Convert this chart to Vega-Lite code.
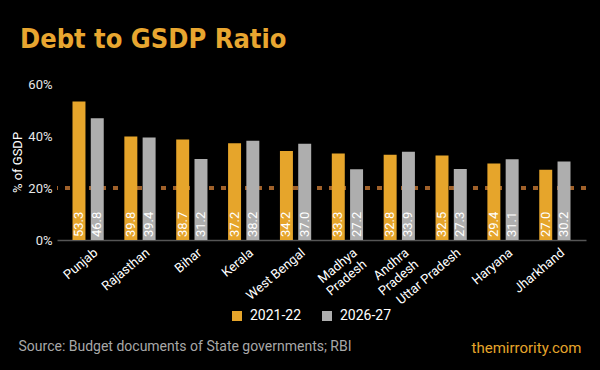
{
  "$schema": "https://vega.github.io/schema/vega-lite/v6.json",
  "width": 529,
  "height": 156,
  "autosize": {"type": "none"},
  "padding": {"left": 57, "top": 84, "right": 14, "bottom": 130},
  "background": "#000000",
  "title": {
    "text": "Debt to GSDP Ratio",
    "anchor": "start",
    "frame": "group",
    "dx": -37,
    "font": "DejaVu Sans Condensed",
    "fontSize": 27,
    "fontWeight": "bold",
    "color": "#E8A630",
    "baseline": "alphabetic",
    "offset": 3
  },
  "config": {
    "font": "Roboto",
    "view": {"stroke": null}
  },
  "data": {
    "values": [
      {"State": "Punjab", "Year": "2021-22", "value": 53.3},
      {"State": "Punjab", "Year": "2026-27", "value": 46.8},
      {"State": "Rajasthan", "Year": "2021-22", "value": 39.8},
      {"State": "Rajasthan", "Year": "2026-27", "value": 39.4},
      {"State": "Bihar", "Year": "2021-22", "value": 38.7},
      {"State": "Bihar", "Year": "2026-27", "value": 31.2},
      {"State": "Kerala", "Year": "2021-22", "value": 37.2},
      {"State": "Kerala", "Year": "2026-27", "value": 38.2},
      {"State": "West Bengal", "Year": "2021-22", "value": 34.2},
      {"State": "West Bengal", "Year": "2026-27", "value": 37.0},
      {"State": "Madhya Pradesh", "Year": "2021-22", "value": 33.3},
      {"State": "Madhya Pradesh", "Year": "2026-27", "value": 27.2},
      {"State": "Andhra Pradesh", "Year": "2021-22", "value": 32.8},
      {"State": "Andhra Pradesh", "Year": "2026-27", "value": 33.9},
      {"State": "Uttar Pradesh", "Year": "2021-22", "value": 32.5},
      {"State": "Uttar Pradesh", "Year": "2026-27", "value": 27.3},
      {"State": "Haryana", "Year": "2021-22", "value": 29.4},
      {"State": "Haryana", "Year": "2026-27", "value": 31.1},
      {"State": "Jharkhand", "Year": "2021-22", "value": 27.0},
      {"State": "Jharkhand", "Year": "2026-27", "value": 30.2}
    ]
  },
  "resolve": {"axis": {"x": "independent"}},
  "layer": [
    {
      "mark": {"type": "rule", "color": "#A0612A", "strokeWidth": 4, "strokeDash": [5, 7]},
      "encoding": {
        "y": {"datum": 20, "type": "quantitative", "scale": {"domain": [0, 60]}}
      }
    },
    {
      "mark": {"type": "bar"},
      "encoding": {
        "x": {
          "field": "State",
          "type": "nominal",
          "sort": null,
          "scale": {"paddingInner": 0.2, "paddingOuter": 0.2},
          "axis": {
            "orient": "bottom",
            "title": "Source: Budget documents of State governments; RBI",
            "titleX": -39,
            "titleY": 106,
            "titleAnchor": "start",
            "titleAlign": "left",
            "titleBaseline": "middle",
            "titleColor": "#A8A8A8",
            "titleFontSize": 14,
            "titleFontWeight": "normal",
            "labelAngle": -40,
            "labelAlign": "right",
            "labelBaseline": "top",
            "labelColor": "#FFFFFF",
            "labelFontSize": 13,
            "labelPadding": 6,
            "labelOffset": 4,
            "labelExpr": "datum.label == 'Madhya Pradesh' ? ['Madhya', 'Pradesh'] : datum.label == 'Andhra Pradesh' ? ['Andhra', 'Pradesh'] : datum.label",
            "ticks": false,
            "domainColor": "#555555",
            "domainWidth": 1.5
          }
        },
        "xOffset": {
          "field": "Year",
          "type": "nominal",
          "scale": {"paddingInner": 0.29, "paddingOuter": 0.28}
        },
        "y": {
          "field": "value",
          "type": "quantitative",
          "scale": {"domain": [0, 60]},
          "axis": {
            "title": "% of GSDP",
            "titleColor": "#FFFFFF",
            "titleFontSize": 13,
            "titleFontWeight": "normal",
            "titlePadding": 3,
            "values": [0, 20, 40, 60],
            "labelExpr": "datum.value + '%'",
            "labelColor": "#E8E8E8",
            "labelFontSize": 13,
            "labelPadding": 5,
            "ticks": false,
            "domain": false,
            "gridColor": "#4A4A4A",
            "gridWidth": 1
          }
        },
        "color": {
          "field": "Year",
          "type": "nominal",
          "scale": {"domain": ["2021-22", "2026-27"], "range": ["#E6A52B", "#AEAEAE"]},
          "legend": {
            "title": null,
            "orient": "none",
            "direction": "horizontal",
            "legendX": 173,
            "legendY": 225,
            "symbolType": "square",
            "symbolSize": 100,
            "symbolStrokeWidth": 0,
            "labelColor": "#FFFFFF",
            "labelFontSize": 14,
            "labelOffset": 6,
            "columnPadding": 18
          }
        }
      }
    },
    {
      "mark": {"type": "text", "angle": 270, "align": "left", "baseline": "middle", "dx": 3, "color": "#FFFFFF", "fontSize": 13},
      "encoding": {
        "x": {
          "field": "State",
          "type": "nominal",
          "sort": null,
          "axis": {
            "orient": "top",
            "labels": false,
            "ticks": false,
            "domain": false,
            "grid": false,
            "title": "themirrority.com",
            "titleX": 524,
            "titleY": 263,
            "titleAnchor": "end",
            "titleAlign": "right",
            "titleBaseline": "middle",
            "titleColor": "#E6A52B",
            "titleFontSize": 15,
            "titleFontWeight": "normal"
          }
        },
        "xOffset": {"field": "Year", "type": "nominal"},
        "y": {"datum": 0, "type": "quantitative"},
        "text": {"field": "value", "type": "quantitative", "format": ".1f"}
      }
    }
  ]
}
